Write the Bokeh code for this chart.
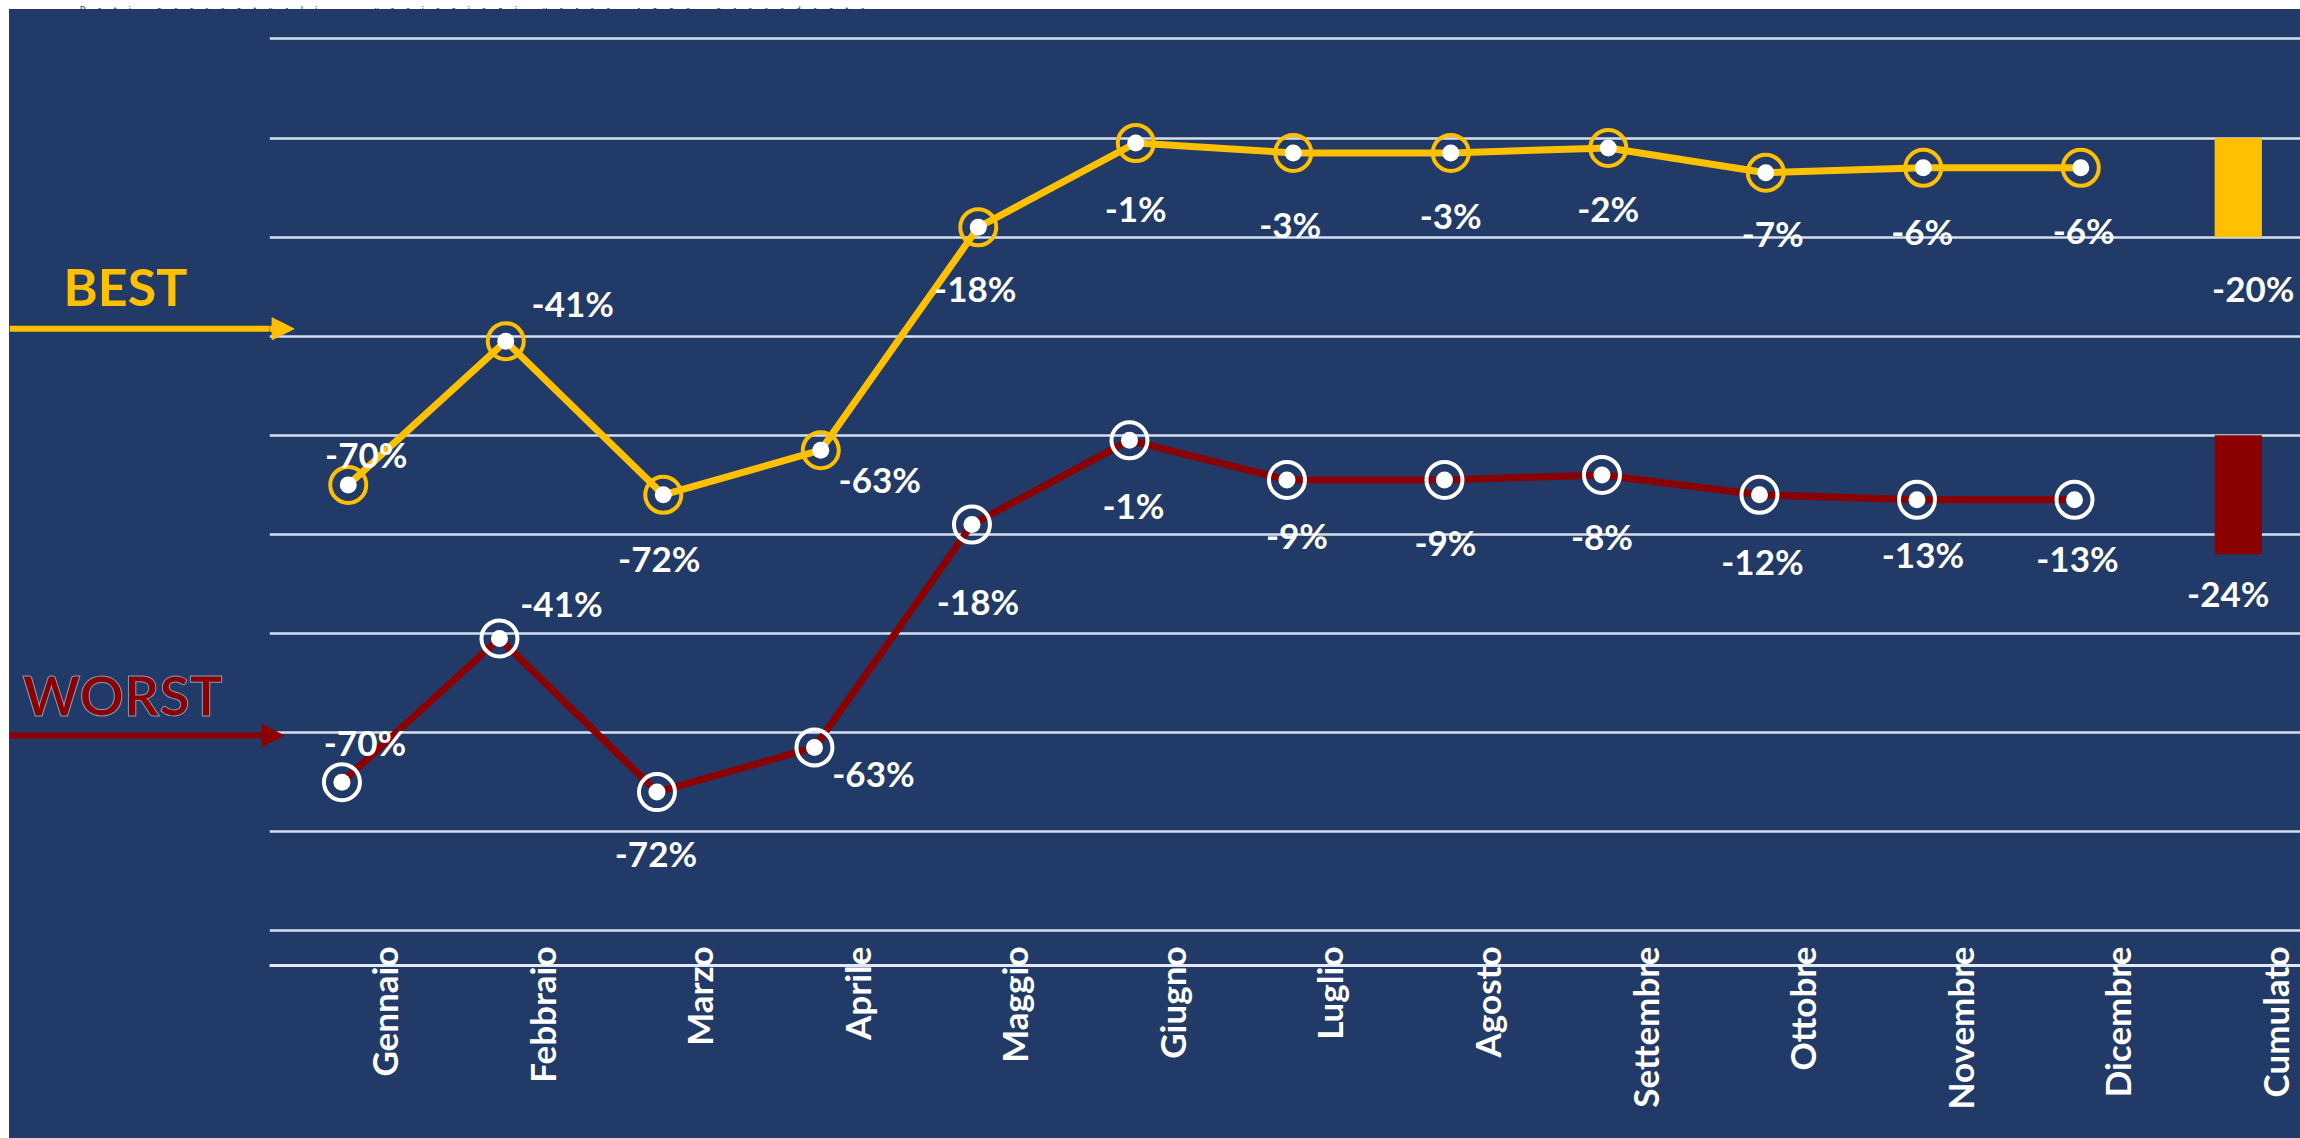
import math
from bokeh.plotting import figure
from bokeh.models import (Range1d, LinearAxis, FixedTicker, ColumnDataSource,
                          Arrow, NormalHead, Div, Grid, Column, Row)
from bokeh.transform import dodge
from bokeh.core.properties import value
from bokeh.embed import file_html
from bokeh.resources import INLINE

# ---------------- data ----------------
categories = ["Gennaio", "Febbraio", "Marzo", "Aprile", "Maggio", "Giugno", "Luglio",
              "Agosto", "Settembre", "Ottobre", "Novembre", "Dicembre", "Cumulato"]
best = [-70, -41, -72, -63, -18, -1, -3, -3, -2, -7, -6, -6]
worst = [-70, -41, -72, -63, -18, -1, -9, -9, -8, -12, -13, -13]
best_cumulato = -20
worst_cumulato = -24
grid_ticks = [20, 0, -20, -40, -60, -80, -100, -120, -140, -160]
worst_shift = 60          # WORST drawn on a secondary scale shifted by 60 points
series_names = ["BEST", "WORST"]
title_text = "Dati percentuali – variazioni verso anno precedente"

# ---------------- label placement (styling, px) ----------------
best_dx = [18, 67, -4, 59, -3, 0, -3, 0, 0, 7, -1, 3]
best_dy = [-31, -38, 63, 29, 61, 65, 71, 62, 60, 60, 63, 62]
worst_dx = [23, 62, -1, 59, 6, 4, 10, 1, 0, 3, 6, 3]
worst_dy = [-40, -35, 61, 26, 76, 65, 55, 62, 61, 66, 54, 58]

BG = "#213A67"
GOLD = "#FFC000"
RED = "#8B0000"
GRID = "#d5dff0"
FONT = "Lato"

Y0, Y1 = -167.0, 21.1
X0, X1 = -0.5, 12.395
XL = -2.148               # left edge of the caption panel, same x units
LAB_SHIFT = 0.23

common = dict(height=1129, toolbar_location=None, output_backend="svg",
              x_axis_location=None, y_axis_location=None,
              min_border_right=0, min_border_top=24, min_border_bottom=173,
              background_fill_color=BG, border_fill_color=BG, outline_line_color=None)

y_range = Range1d(Y0, Y1)
worst_range = Range1d(Y0 + worst_shift, Y1 + worst_shift)

# ---------------- caption panel (left) ----------------
left = figure(width=260, x_range=Range1d(XL, X0), y_range=y_range, min_border_left=0,
              margin=0, **common)
left.extra_y_ranges = {"worst": worst_range}
left.xgrid.visible = False
left.ygrid.visible = False

# ---------------- main chart ----------------
p = figure(width=2031, x_range=Range1d(X0, X1), y_range=y_range, min_border_left=0,
           margin=0, **common)
p.extra_y_ranges = {"worst": worst_range}
p.extra_x_ranges = {"lab": Range1d(X0 - LAB_SHIFT, X1 - LAB_SHIFT)}
p.xgrid.visible = False
p.ygrid.visible = False

p.add_layout(Grid(dimension=1, ticker=FixedTicker(ticks=grid_ticks),
                  grid_line_color=GRID, grid_line_width=2.5))

axis = LinearAxis(x_range_name="lab", ticker=FixedTicker(ticks=list(range(len(categories)))),
                  major_label_overrides={i: c for i, c in enumerate(categories)},
                  major_label_orientation=math.pi / 2,
                  major_tick_line_color=None, minor_tick_line_color=None,
                  major_tick_out=0, major_tick_in=0,
                  axis_line_color="#e2e8f4", axis_line_width=3,
                  major_label_text_color="white", major_label_text_font=FONT,
                  major_label_text_font_style="bold", major_label_text_font_size="35px",
                  major_label_standoff=-19)
p.add_layout(axis, "below")

xs = list(range(12))
src_b = ColumnDataSource(dict(x=xs, y=best, lbl=[f"{v}%" for v in best], dx=best_dx, dy=best_dy))
src_w = ColumnDataSource(dict(x=xs, y=worst, lbl=[f"{v}%" for v in worst], dx=worst_dx, dy=worst_dy))

# cumulative bars
p.vbar(x=[12], top=[0], bottom=[best_cumulato], width=0.3, fill_color=GOLD, line_color=None)
p.vbar(x=[12], top=[0], bottom=[worst_cumulato], width=0.3, fill_color=RED, line_color=None,
       y_range_name="worst")

# BEST series
p.line("x", "y", source=src_b, line_color=GOLD, line_width=7)
p.scatter("x", "y", source=src_b, size=36, fill_color=None, line_color=GOLD, line_width=4)
p.scatter("x", "y", source=src_b, size=17, fill_color="white", line_color=None)

# WORST series
wx = dodge("x", -0.04, range=p.x_range)
p.line(wx, "y", source=src_w, line_color=RED, line_width=7, y_range_name="worst")
p.scatter(wx, "y", source=src_w, size=36, fill_color=None, line_color="white", line_width=4,
          y_range_name="worst")
p.scatter(wx, "y", source=src_w, size=17, fill_color="white", line_color=None,
          y_range_name="worst")

txt = dict(text_font=value(FONT), text_font_style="bold", text_font_size=value("35px"),
           text_color="white", text_align="center", text_baseline="middle")
p.text("x", "y", text="lbl", source=src_b, x_offset="dx", y_offset="dy", **txt)
p.text(wx, "y", text="lbl", source=src_w, x_offset="dx", y_offset="dy",
       y_range_name="worst", **txt)
p.text(x=[12], y=[best_cumulato], text=[f"{best_cumulato}%"], x_offset=15, y_offset=51, **txt)
p.text(x=[12], y=[worst_cumulato], text=[f"{worst_cumulato}%"], x_offset=-10, y_offset=39,
       y_range_name="worst", **txt)

# BEST / WORST captions with arrows (arrow spans both panels with identical coordinates)
left.text(x=[-1.805], y=[-29.8], text=[series_names[0]], text_font=value(FONT),
          text_font_style="bold", text_font_size=value("52px"), text_color=GOLD,
          text_align="left", text_baseline="alphabetic")
left.text(x=[-2.065], y=[-112.5], text=[series_names[1]], text_font=value(FONT),
          text_font_style="bold", text_font_size=value("55px"), text_color=RED,
          text_align="left", text_baseline="alphabetic", text_outline_color="#8a9ab8")
for fig in (left, p):
    fig.add_layout(Arrow(x_start=XL, y_start=-38.5, x_end=-0.344, y_end=-38.5,
                         line_color=GOLD, line_width=6,
                         end=NormalHead(size=22, fill_color=GOLD, line_color=GOLD)))
    fig.add_layout(Arrow(x_start=XL, y_start=-60.6, x_end=-0.408, y_end=-60.6,
                         y_range_name="worst", line_color=RED, line_width=6,
                         end=NormalHead(size=22, fill_color=RED, line_color=RED)))

title_html = ('<div style="font-family:Lato; font-weight:bold; font-size:7px; line-height:9px; '
              'letter-spacing:12.5px; color:#1F4E9A; white-space:nowrap; margin-left:80px;">'
              + title_text + '</div>')
div = Div(text=title_html, width=2300, height=9, margin=0)

row = Row(children=[left, p], spacing=0, margin=(0, 0, 0, 9),
          styles={"background-color": BG})
layout = Column(children=[div, row], spacing=0, margin=0)
open("out.html", "w").write(file_html(layout, INLINE))
